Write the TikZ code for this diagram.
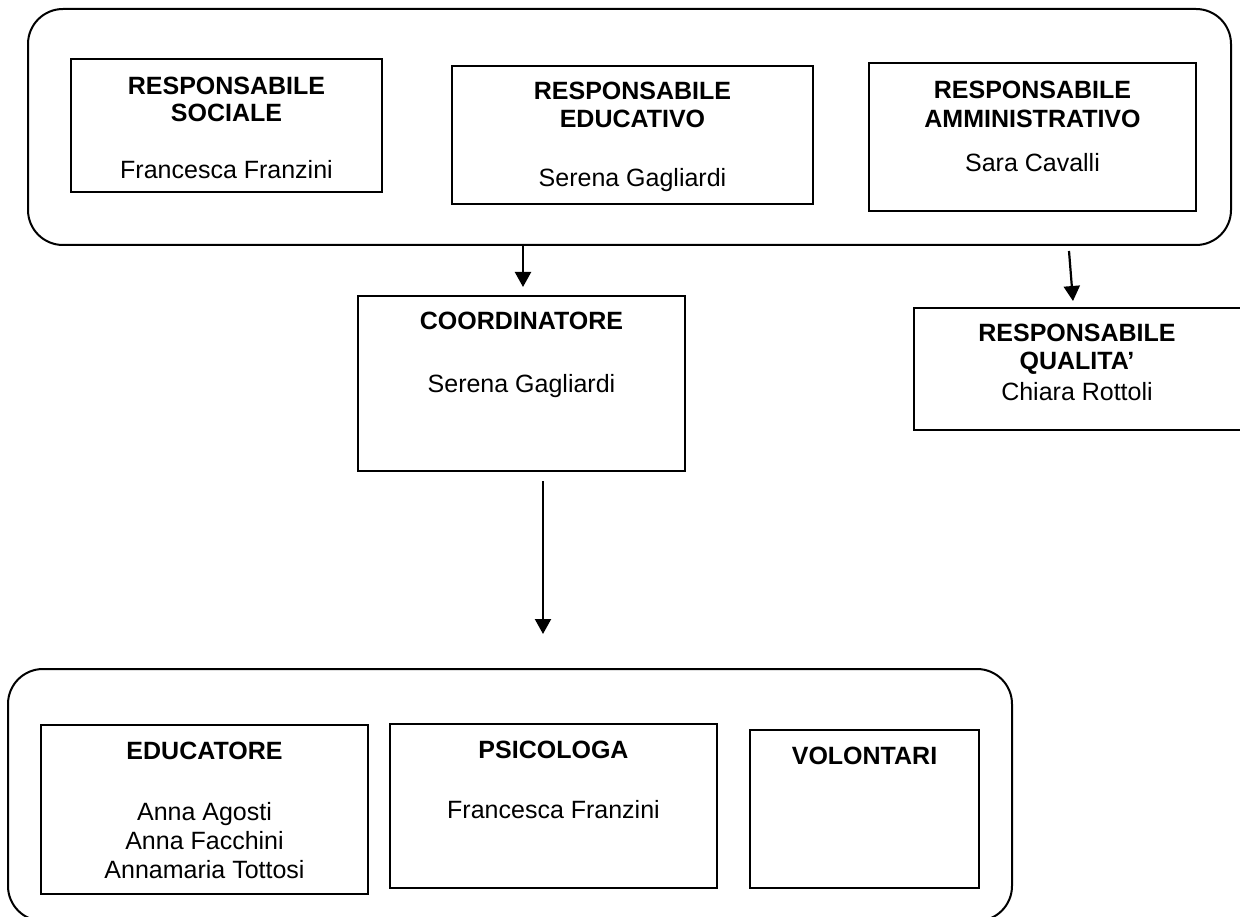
\documentclass[tikz,border=0pt]{standalone}
\usepackage{fontspec}
\setmainfont{Liberation Sans}
\usetikzlibrary{arrows.meta}
\tikzset{
  box/.style={draw=black, line width=2pt, inner sep=0pt, outer sep=0pt, fill=none},
  group/.style={draw=black, line width=2pt, inner sep=0pt, outer sep=0pt, rounded corners=35pt},
  hd/.style={inner sep=0pt, anchor=base, font=\fontsize{25}{28}\selectfont\bfseries},
  nm/.style={inner sep=0pt, anchor=base, font=\fontsize{25}{28}\selectfont},
  arr/.style={line width=2.2pt, -{Triangle[length=15pt,width=16pt]}}
}
\begin{document}
\begin{tikzpicture}[x=1pt,y=-1pt]
\useasboundingbox (0,0) rectangle (1240,917);
\fill[white] (0,0) rectangle (1240,917);

% top group
\node[group, minimum width=1203pt, minimum height=236pt] (topgrp) at (629.5,127) {};
\node[box, minimum width=311pt, minimum height=133pt] (soc) at (226.5,125.5) {};
\node[hd] (soc1) at (226.5,95) {RESPONSABILE};
\node[hd] (soc2) at (226.5,122) {SOCIALE};
\node[nm] (soc3) at (226.5,179) {Francesca Franzini};

\node[box, minimum width=361pt, minimum height=138pt] (edu) at (632.5,135) {};
\node[hd] (edu1) at (632.5,100) {RESPONSABILE};
\node[hd] (edu2) at (632.5,128) {EDUCATIVO};
\node[nm] (edu3) at (632.5,187) {Serena Gagliardi};

\node[box, minimum width=327pt, minimum height=148pt] (amm) at (1032.5,137) {};
\node[hd] (amm1) at (1032.5,99) {RESPONSABILE};
\node[hd] (amm2) at (1032.5,128) {AMMINISTRATIVO};
\node[nm] (amm3) at (1032.5,172) {Sara Cavalli};

% coordinatore
\node[box, minimum width=327pt, minimum height=175pt] (coord) at (521.5,383.5) {};
\node[hd] (coord1) at (521.5,330) {COORDINATORE};
\node[nm] (coord2) at (521.5,392) {Serena Gagliardi};

% qualita
\node[box, minimum width=328pt, minimum height=122pt] (qual) at (1078,369) {};
\node[hd] (qual1) at (1077,342) {RESPONSABILE};
\node[hd] (qual2) at (1077,370) {QUALITA’};
\node[nm] (qual3) at (1077,400) {Chiara Rottoli};

% bottom group
\node[group, minimum width=1004pt, minimum height=252pt] (botgrp) at (510,795) {};
\node[box, minimum width=327pt, minimum height=169pt] (educ) at (204.5,809.5) {};
\node[hd] (educ1) at (204.5,759) {EDUCATORE};
\node[nm] (educ2) at (204.5,820) {Anna Agosti};
\node[nm] (educ3) at (204.5,849) {Anna Facchini};
\node[nm] (educ4) at (204.5,878) {Annamaria Tottosi};

\node[box, minimum width=327pt, minimum height=164pt] (psi) at (553.5,806) {};
\node[hd] (psi1) at (553.5,758) {PSICOLOGA};
\node[nm] (psi2) at (553.5,818) {Francesca Franzini};

\node[box, minimum width=229pt, minimum height=158pt] (vol) at (864.5,809) {};
\node[hd] (vol1) at (864.5,764) {VOLONTARI};

% connectors
\coordinate (a1s) at (topgrp.south -| 523,0);
\coordinate (a1e) at (523,287);
\draw[arr] (a1s) -- (a1e);
\coordinate (a2s) at (1069,251);
\coordinate (a2e) at (1073,301);
\draw[arr] (a2s) -- (a2e);
\coordinate (a3s) at (543,481);
\coordinate (a3e) at (543,634);
\draw[arr] (a3s) -- (a3e);
\end{tikzpicture}
\end{document}
